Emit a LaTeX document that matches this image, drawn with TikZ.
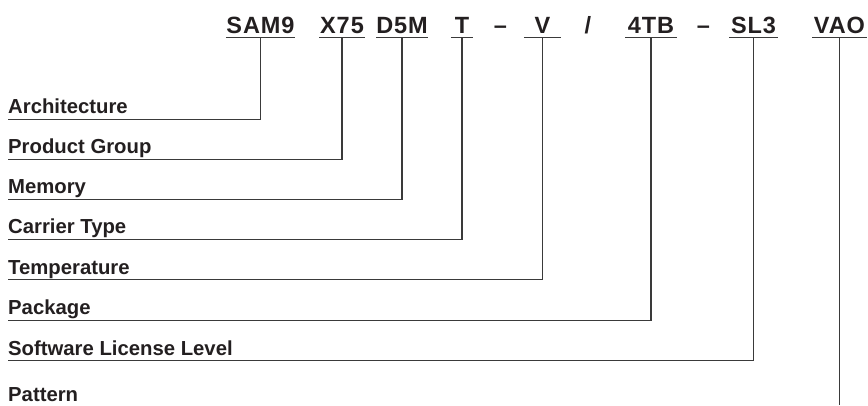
\documentclass[tikz,border=0pt]{standalone}
\usepackage{fontspec}
\setmainfont{Liberation Sans}
\newfontfamily\codefont[LetterSpace=4]{Liberation Sans}
\usetikzlibrary{positioning}
\definecolor{ink}{HTML}{231F20}
\definecolor{rulegray}{HTML}{3A3A3A}
\tikzset{
  code/.style={font=\fontsize{23.5}{27}\selectfont\codefont\bfseries, text=ink,
    inner xsep=0pt, inner ysep=4.5pt, text depth=0pt, anchor=base},
  sep/.style={font=\fontsize{23.5}{27}\selectfont\bfseries, text=ink,
    inner sep=0pt, anchor=base},
  field/.style={font=\fontsize{20.3}{24}\selectfont\bfseries, text=ink,
    inner xsep=0pt, inner ysep=5.5pt, text depth=0pt, anchor=base west},
  rule/.style={draw=rulegray, line width=1.3pt}
}
\begin{document}
\begin{tikzpicture}[x=1pt,y=-1pt]
  \useasboundingbox (0,0) rectangle (868,405);
  % ordering code
  \node[code, minimum width=69pt] (sam) at (260.5,33) {SAM9};
  \node[code, minimum width=45pt] (grp) at (342,33) {X75};
  \node[code, minimum width=46pt] (mem) at (402,33) {D5M};
  \node[code, minimum width=22pt] (car) at (462,33) {T};
  \node[sep] (dasha) at (500.5,33) {--};
  \node[code, minimum width=37pt] (tmp) at (542.5,33) {V};
  \node[sep] (slash) at (588,33) {/};
  \node[code, minimum width=51pt] (pkg) at (651,33) {4TB};
  \node[sep] (dashb) at (703.5,33) {--};
  \node[code, minimum width=48pt] (sll) at (753.5,33) {SL3};
  \node[code, minimum width=54pt] (vao) at (839.5,33) {VAO};
  \foreach \n in {sam,grp,mem,car,tmp,pkg,sll,vao}
    \draw[rule] (\n.south west) -- (\n.south east);
  % field names
  \node[field] (arch) at (8,113.5) {Architecture};
  \node[field] (group) at (8,153.5) {Product Group};
  \node[field] (memory) at (8,193.5) {Memory};
  \node[field] (carrier) at (8,233.5) {Carrier Type};
  \node[field] (temp) at (8,274) {Temperature};
  \node[field] (package) at (8,314.5) {Package};
  \node[field] (license) at (8,355) {Software License Level};
  \node[field] (pattern) at (8,401) {Pattern};
  \coordinate (vaoend) at (839.5,405);
  % connectors
  \draw[rule] (sam.south) |- (arch.south west);
  \draw[rule] (grp.south) |- (group.south west);
  \draw[rule] (mem.south) |- (memory.south west);
  \draw[rule] (car.south) |- (carrier.south west);
  \draw[rule] (tmp.south) |- (temp.south west);
  \draw[rule] (pkg.south) |- (package.south west);
  \draw[rule] (sll.south) |- (license.south west);
  \draw[rule] (vao.south) -- (vaoend);
\end{tikzpicture}
\end{document}
